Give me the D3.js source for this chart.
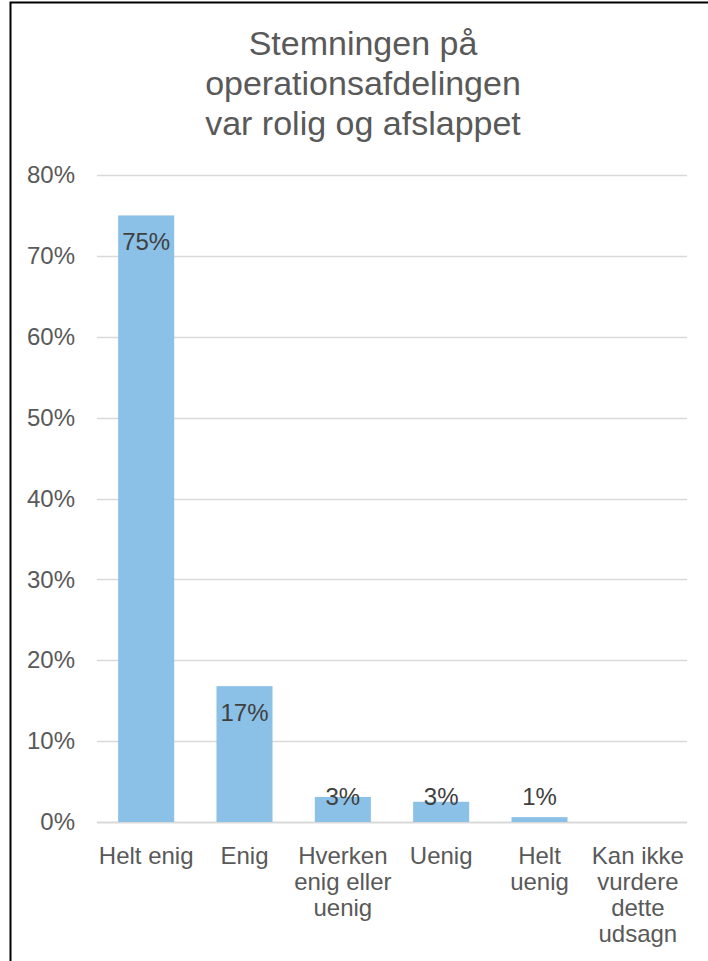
<!DOCTYPE html>
<html>
<head>
<meta charset="utf-8">
<script src="https://cdn.jsdelivr.net/npm/d3@7"></script>
<style>
  html, body { margin: 0; padding: 0; background: #fff; }
  svg { display: block; font-family: "Liberation Sans", Arial, sans-serif; }
</style>
</head>
<body>
<div id="chart"></div>
<script>
const titleLines = ["Stemningen på", "operationsafdelingen", "var rolig og afslappet"];

const categories = [
  ["Helt enig"],
  ["Enig"],
  ["Hverken", "enig eller", "uenig"],
  ["Uenig"],
  ["Helt", "uenig"],
  ["Kan ikke", "vurdere", "dette", "udsagn"]
];
const values = [0.75, 0.168, 0.031, 0.025, 0.006, 0];
const valueLabels = ["75%", "17%", "3%", "3%", "1%", ""];
const yTicks = [0, 0.1, 0.2, 0.3, 0.4, 0.5, 0.6, 0.7, 0.8];

const W = 708, H = 961;
const margin = { top: 175, right: 21, bottom: 139, left: 97 };
const innerW = W - margin.left - margin.right;
const innerH = H - margin.top - margin.bottom;
const textColor = "#595959";

const svg = d3.select("#chart").append("svg")
    .attr("width", W)
    .attr("height", H);

svg.append("rect").attr("width", W).attr("height", H).attr("fill", "#fff");

// frame (left and top edges only visible)
svg.append("path")
    .attr("d", `M10.5,${H} L10.5,2.5 L${W},2.5`)
    .attr("fill", "none")
    .attr("stroke", "#000")
    .attr("stroke-width", 2);

// title
svg.append("text")
    .attr("x", 363)
    .attr("y", 55)
    .attr("text-anchor", "middle")
    .attr("fill", textColor)
    .style("font-size", "34px")
  .selectAll("tspan")
  .data(titleLines)
  .enter().append("tspan")
    .attr("x", 363)
    .attr("dy", (d, i) => i === 0 ? 0 : 40)
    .text(d => d);

const g = svg.append("g")
    .attr("transform", `translate(${margin.left},${margin.top})`);

const x = d3.scaleBand()
    .domain(d3.range(categories.length))
    .range([0, innerW])
    .paddingInner(0.43)
    .paddingOuter(0.215);

const y = d3.scaleLinear()
    .domain([0, 0.8])
    .range([innerH, 0]);

// gridlines
g.append("g")
  .selectAll("line")
  .data(yTicks)
  .enter().append("line")
    .attr("x1", 0)
    .attr("x2", innerW)
    .attr("y1", d => Math.round(y(d)) + 0.5)
    .attr("y2", d => Math.round(y(d)) + 0.5)
    .attr("stroke", "#d9d9d9")
    .attr("stroke-width", d => d === 0 ? 2 : 1.3);

// y axis labels
const yAxis = g.append("g")
    .call(d3.axisLeft(y).tickValues(yTicks).tickFormat(d3.format(".0%")).tickSize(0).tickPadding(22));
yAxis.select(".domain").remove();
yAxis.selectAll("text")
    .attr("fill", textColor)
    .style("font-size", "24px")
    .style("font-family", "'Liberation Sans', Arial, sans-serif");

// bars
g.selectAll("rect.bar")
  .data(values)
  .enter().append("rect")
    .attr("class", "bar")
    .attr("x", (d, i) => x(i))
    .attr("width", x.bandwidth())
    .attr("y", d => y(d))
    .attr("height", d => innerH - y(d))
    .attr("fill", "#8bc1e6");

// value labels
g.selectAll("text.val")
  .data(values)
  .enter().append("text")
    .attr("class", "val")
    .attr("x", (d, i) => x(i) + x.bandwidth() / 2)
    .attr("y", d => Math.min(y(d) + 26, innerH - 25))
    .attr("dy", "0.35em")
    .attr("text-anchor", "middle")
    .attr("fill", "#404040")
    .style("font-size", "24px")
    .text((d, i) => valueLabels[i]);

// category labels
const xl = g.append("g").attr("transform", `translate(0,${innerH})`);
categories.forEach((lines, i) => {
  const t = xl.append("text")
      .attr("x", x(i) + x.bandwidth() / 2)
      .attr("y", 42)
      .attr("text-anchor", "middle")
      .attr("fill", textColor)
      .style("font-size", "24px");
  lines.forEach((ln, j) => {
    t.append("tspan")
        .attr("x", x(i) + x.bandwidth() / 2)
        .attr("dy", j === 0 ? 0 : 26)
        .text(ln);
  });
});
</script>
</body>
</html>
